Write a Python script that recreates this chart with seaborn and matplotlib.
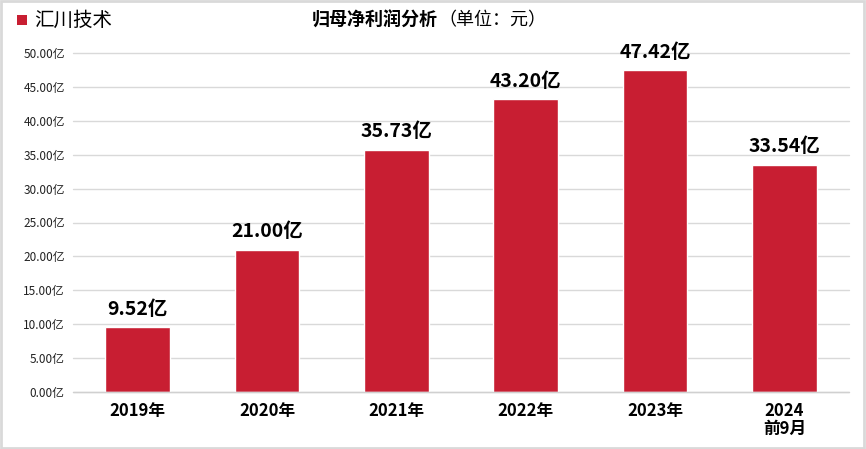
import matplotlib
matplotlib.use("Agg")
import matplotlib.pyplot as plt
import seaborn as sns
import pandas as pd
from matplotlib.patches import Rectangle

categories = ["2019年", "2020年", "2021年", "2022年", "2023年", "2024\n前9月"]
values = [9.52, 21.00, 35.73, 43.20, 47.42, 33.54]
yticks = [0, 5, 10, 15, 20, 25, 30, 35, 40, 45, 50]
series_name = "汇川技术"
bar_color = "#C81E32"

sns.set_theme(style="white")
plt.rcParams['font.family'] = ['Noto Sans CJK SC', 'DejaVu Sans']

df = pd.DataFrame({"cat": categories, "val": values})

fig = plt.figure(figsize=(8.66, 4.49), dpi=100)
ax = fig.add_axes([73/866, 1-392/449, 776/866, 339/449])
sns.barplot(data=df, x="cat", y="val", color=bar_color, saturation=1, width=0.5, ax=ax, zorder=3)

ax.set_xlim(-0.5, len(categories)-0.5)
ax.set_ylim(0, 50)
ax.set_yticks(yticks)
ax.set_yticklabels([f"{v:.2f}亿" for v in yticks], fontsize=8.5, color="#222222")
ax.set_xticklabels(categories, fontsize=12, fontweight="bold", color="#000000", linespacing=1.05)
ax.tick_params(axis="y", length=0, pad=6)
ax.tick_params(axis="x", length=0, pad=7)
ax.set_xlabel("")
ax.set_ylabel("")
ax.grid(axis="y", color="#d9d9d9", linewidth=1, zorder=0)
ax.grid(axis="x", visible=False)
for s in ax.spines.values():
    s.set_visible(False)
ax.axhline(0, color="#d0d0d0", linewidth=1, zorder=4, clip_on=False)
for yl in ax.get_ygridlines():
    yl.set_clip_on(False)

for i, v in enumerate(values):
    ax.annotate(f"{v:.2f}亿", (i, v), xytext=(0, 6), textcoords="offset points",
                ha="center", va="bottom", fontsize=14, fontweight="bold", color="#000000")

# Title
fig.text(438/866, 1-20/449, "归母净利润分析", ha="right", va="center", fontsize=13, fontweight="bold", color="#000000")
fig.text(438/866, 1-20/449, "（单位：元）", ha="left", va="center", fontsize=13, color="#000000")

# Legend
fig.patches.append(Rectangle((17/866, 1-25/449), 10/866, 10/449, transform=fig.transFigure,
                             facecolor=bar_color, edgecolor="none"))
fig.text(34/866, 1-20/449, series_name, ha="left", va="center", fontsize=14, color="#000000")

# Border
fig.patches.append(Rectangle((0.001, 0.002), 0.997, 0.995, transform=fig.transFigure,
                             facecolor="none", edgecolor="#d9d9d9", linewidth=2))

fig.savefig("out.png", dpi=100)
